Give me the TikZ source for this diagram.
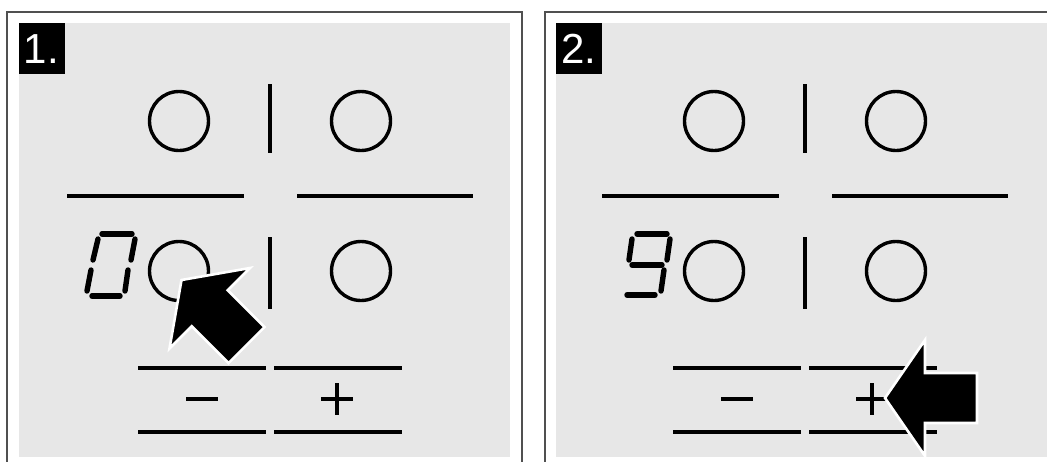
\documentclass[tikz,border=0pt]{standalone}
\usepackage{fontspec}
\setmainfont{Liberation Sans}
\definecolor{panelgray}{RGB}{231,231,231}
\definecolor{framegray}{RGB}{80,80,80}
\tikzset{
  frameline/.style={draw=framegray, line width=1.5pt},
  ink/.style={draw=black, line width=3.4pt},
  seg/.style={draw=black, line width=5.4pt, line cap=round},
  bigarrow/.style={fill=black, draw=white, line width=2.6pt, line join=miter},
  labelbox/.style={fill=black, draw=none},
  labeltext/.style={text=white, font=\fontsize{42}{42}\selectfont, inner sep=0pt, anchor=base west}
}
\newcommand{\hobpanel}{%
  \draw[ink] (179,121) circle (29.5);
  \draw[ink] (361,121) circle (29.5);
  \draw[ink] (179,271) circle (29.5);
  \draw[ink] (361,271) circle (29.5);
  \draw[ink] (270,84) -- (270,153);
  \draw[ink] (270,237) -- (270,309);
  \draw[ink] (67,196) -- (244,196);
  \draw[ink] (297,196) -- (473,196);
  \draw[ink] (138,368) -- (266,368);
  \draw[ink] (274,368) -- (402,368);
  \draw[ink] (138,432) -- (266,432);
  \draw[ink] (274,432) -- (402,432);
  \draw[ink] (186,399) -- (218,399);
  \draw[ink] (321,399) -- (353,399);
  \draw[ink] (337,383) -- (337,415);
}
\begin{document}
\begin{tikzpicture}[x=1pt,y=-1pt]
\useasboundingbox (0,0) rectangle (1047,461);
\fill[white] (0,0) rectangle (1047,461);
\begin{scope}
\clip (0,0) rectangle (1047,461);
% panel frames and fills
\draw[frameline] (7,12) rectangle (522,475);
\fill[panelgray] (18.5,23) rectangle (510,457);
\draw[frameline] (545,12) rectangle (1062,475);
\fill[panelgray] (556,23) rectangle (1050,457);
% panel contents
\hobpanel
\begin{scope}[xshift=535pt]
\hobpanel
\end{scope}
% digit 0 (panel 1)
\draw[seg] (102,234) -- (132,234);
\draw[seg] (98,239) -- (93,260);
\draw[seg] (135,239) -- (131,260);
\draw[seg] (91,270) -- (87,291);
\draw[seg] (128,270) -- (125,291);
\draw[seg] (92,296) -- (120,296);
% digit 9 (panel 2)
\draw[seg] (637,234) -- (667,234);
\draw[seg] (632,239) -- (629,260);
\draw[seg] (670,239) -- (667,260);
\draw[seg] (632,265) -- (662,265);
\draw[seg] (664,270) -- (661,291);
\draw[seg] (627,295) -- (655,295);
% arrows
\begin{scope}[shift={(181.5,280)}, rotate=135]
\draw[bigarrow] (0,0) -- (-40,57) -- (-40,25.5) -- (-92,25.5) -- (-92,-25.5) -- (-40,-25.5) -- (-40,-57) -- cycle;
\end{scope}
\begin{scope}[shift={(885,398)}, rotate=180]
\draw[bigarrow] (0,0) -- (-40,58) -- (-40,25) -- (-92,25) -- (-92,-25) -- (-40,-25) -- (-40,-58) -- cycle;
\end{scope}
% step labels
\fill[labelbox] (18.5,23) rectangle (64.5,74);
\node[labeltext] (lab1) at (23.5,63.5) {1.};
\fill[labelbox] (556,23) rectangle (602,74);
\node[labeltext] (lab2) at (561,63.5) {2.};
\end{scope}
\end{tikzpicture}
\end{document}
